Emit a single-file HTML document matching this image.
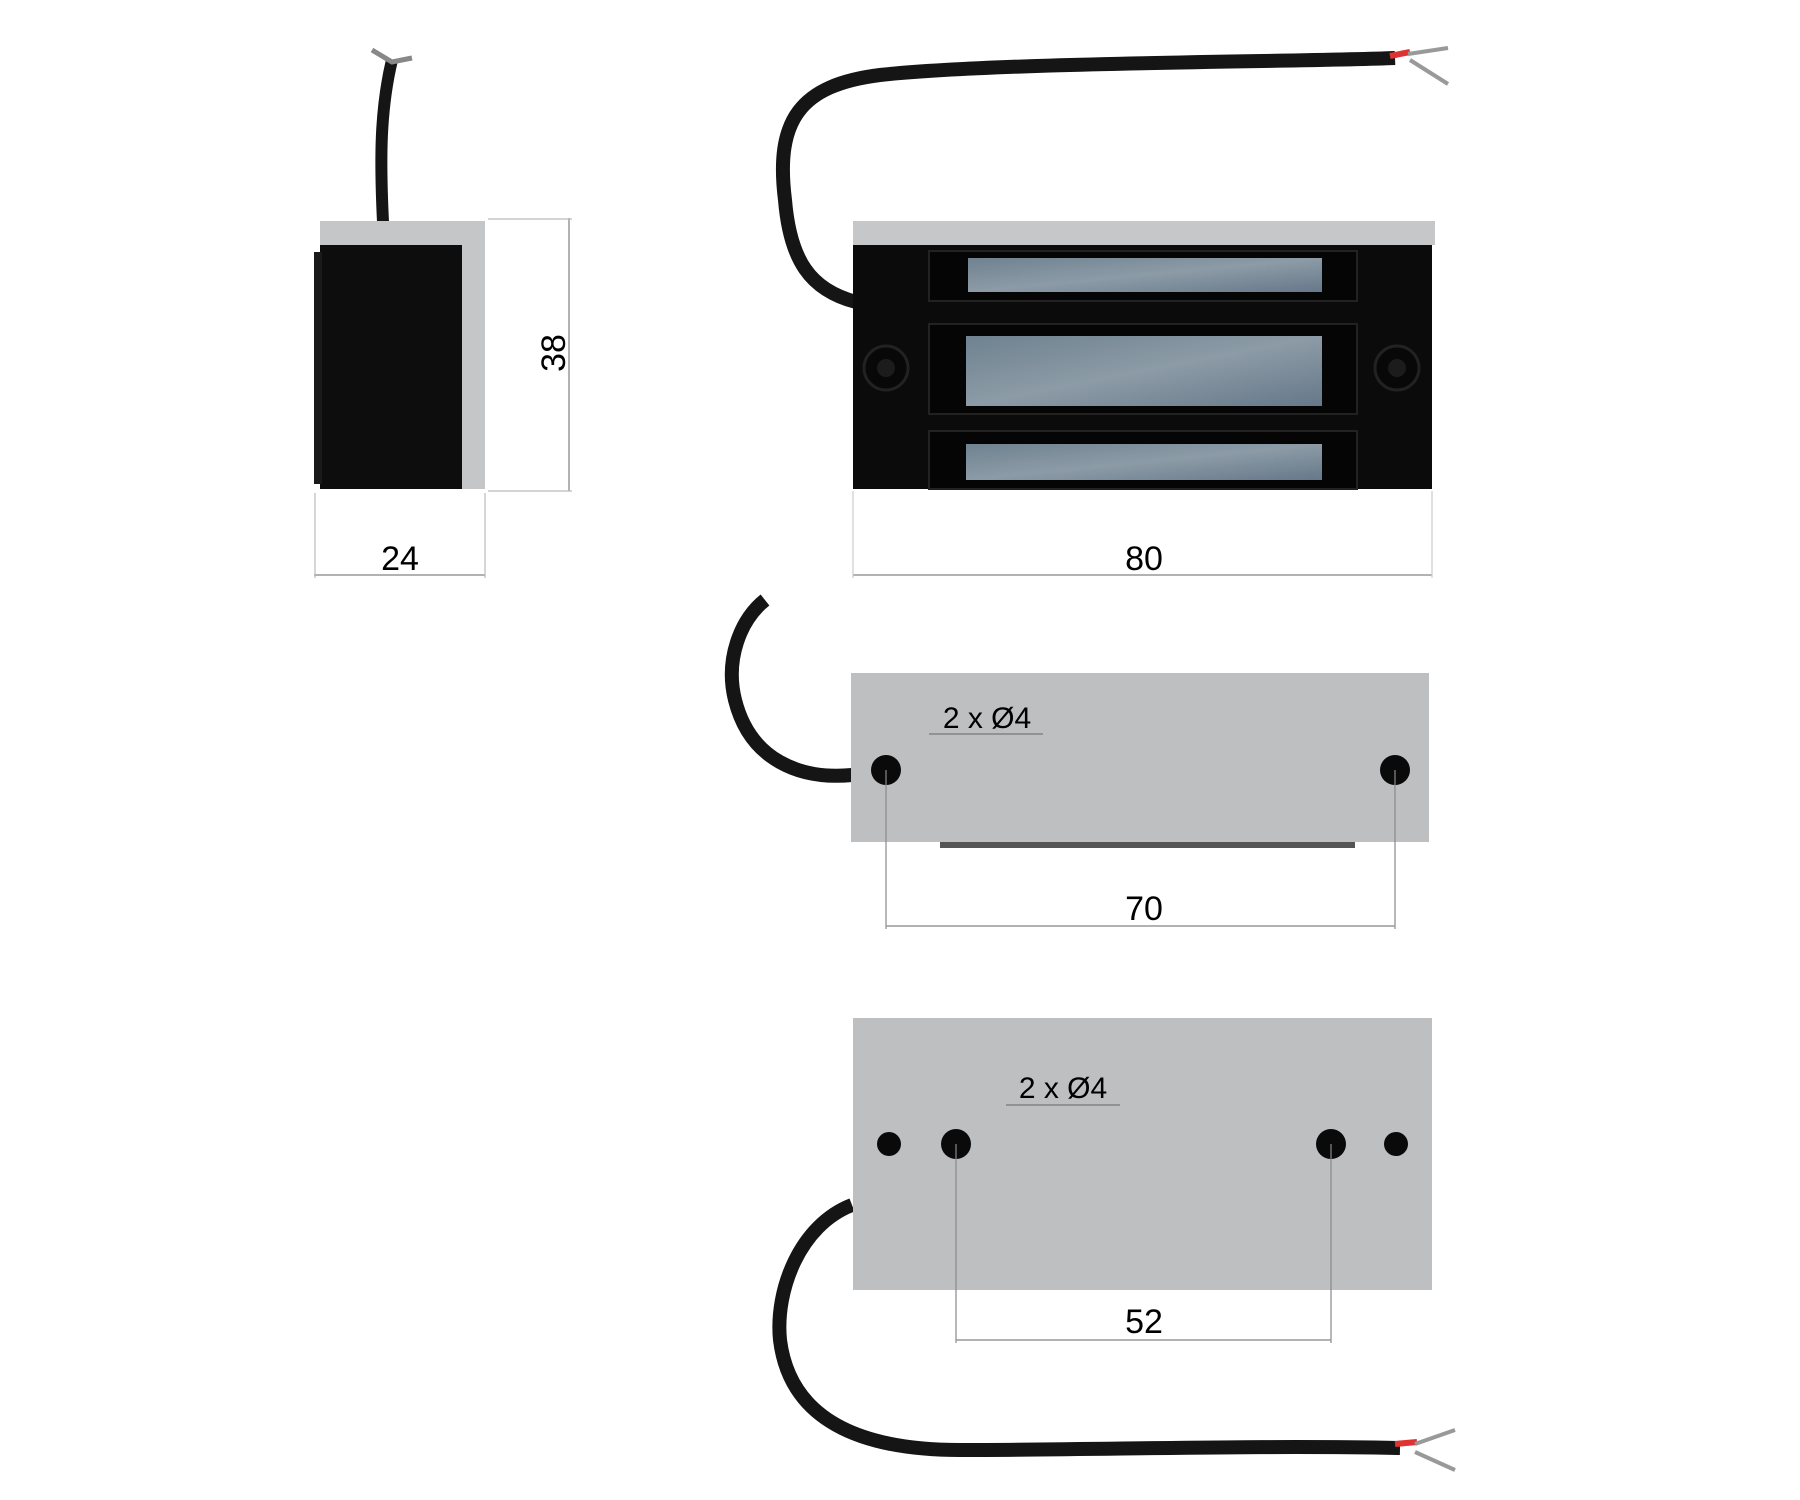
<!DOCTYPE html>
<html><head><meta charset="utf-8"><style>html,body{margin:0;padding:0;background:#fff}svg{display:block}</style></head>
<body>
<svg width="1800" height="1500" viewBox="0 0 1800 1500" xmlns="http://www.w3.org/2000/svg" font-family="Liberation Sans, sans-serif">
<defs>
<linearGradient id="mag" x1="0" y1="0" x2="1" y2="1"><stop offset="0" stop-color="#6f8290"/><stop offset="0.5" stop-color="#8c9ba6"/><stop offset="1" stop-color="#66788a"/></linearGradient>
</defs>
<!-- SIDE VIEW -->
<path d="M383 222 C 380 160, 380 110, 392 60" stroke="#151515" stroke-width="12" fill="none"/>
<path d="M372 50 l20 12 l20 -4" stroke="#888" stroke-width="5" fill="none"/>
<rect x="320" y="221" width="165" height="24" fill="#c4c6c8"/>
<rect x="462" y="221" width="23" height="268" fill="#c4c6c8"/>
<rect x="320" y="245" width="142" height="244" fill="#0d0d0d"/>
<rect x="314" y="252" width="8" height="232" fill="#1a1a1a"/>
<line x1="569" y1="218" x2="569" y2="491" stroke="#999" stroke-width="1.5"/>
<line x1="488" y1="219" x2="572" y2="219" stroke="#bbb" stroke-width="1.2"/>
<line x1="488" y1="491" x2="572" y2="491" stroke="#bbb" stroke-width="1.2"/>
<text x="0" y="0" font-size="34" text-anchor="middle" transform="translate(565,353) rotate(-90)">38</text>
<line x1="314" y1="575" x2="485" y2="575" stroke="#999" stroke-width="1.5"/>
<line x1="315" y1="493" x2="315" y2="578" stroke="#bbb" stroke-width="1.2"/>
<line x1="485" y1="493" x2="485" y2="578" stroke="#bbb" stroke-width="1.2"/>
<text x="400" y="570" font-size="34" text-anchor="middle">24</text>
<!-- FRONT VIEW -->
<path d="M856 302 C 810 290, 790 260, 785 200 C 775 120, 800 85, 880 75 C 1000 62, 1300 62, 1395 58" stroke="#151515" stroke-width="14" fill="none"/>
<path d="M1390 56 l20 -4" stroke="#d33" stroke-width="6"/>
<path d="M1408 54 l40 -6 M1410 60 l38 24" stroke="#999" stroke-width="4" fill="none"/>
<rect x="853" y="221" width="582" height="24" fill="#c6c7c9"/>
<rect x="853" y="245" width="579" height="244" fill="#0b0b0b"/>
<rect x="929" y="251" width="428" height="50" fill="#050505" stroke="#222" stroke-width="2"/>
<rect x="929" y="324" width="428" height="90" fill="#050505" stroke="#222" stroke-width="2"/>
<rect x="929" y="431" width="428" height="58" fill="#050505" stroke="#222" stroke-width="2"/>
<rect x="968" y="258" width="354" height="34" fill="url(#mag)"/>
<rect x="966" y="336" width="356" height="70" fill="url(#mag)"/>
<rect x="966" y="444" width="356" height="36" fill="url(#mag)"/>
<circle cx="886" cy="368" r="22" fill="#080808" stroke="#222" stroke-width="3"/><circle cx="886" cy="368" r="9" fill="#1c1c1c"/>
<circle cx="1397" cy="368" r="22" fill="#080808" stroke="#222" stroke-width="3"/><circle cx="1397" cy="368" r="9" fill="#1c1c1c"/>
<line x1="853" y1="575" x2="1432" y2="575" stroke="#999" stroke-width="1.5"/>
<line x1="853" y1="491" x2="853" y2="578" stroke="#ccc" stroke-width="1.2"/>
<line x1="1432" y1="491" x2="1432" y2="578" stroke="#ccc" stroke-width="1.2"/>
<text x="1144" y="570" font-size="34" text-anchor="middle">80</text>
<!-- MIDDLE VIEW -->
<path d="M852 775 C 800 780, 750 760, 735 700 C 725 660, 740 620, 765 600" stroke="#151515" stroke-width="14" fill="none"/>
<rect x="940" y="838" width="415" height="10" fill="#555"/>
<rect x="851" y="673" width="578" height="169" fill="#bdbfc1"/>
<circle cx="886" cy="770" r="15" fill="#0a0a0a"/>
<circle cx="1395" cy="770" r="15" fill="#0a0a0a"/>
<line x1="886" y1="770" x2="886" y2="929" stroke="#888" stroke-width="1.2"/>
<line x1="1395" y1="770" x2="1395" y2="929" stroke="#888" stroke-width="1.2"/>
<line x1="886" y1="926" x2="1395" y2="926" stroke="#999" stroke-width="1.5"/>
<text x="1144" y="920" font-size="34" text-anchor="middle">70</text>
<text x="987" y="728" font-size="30" text-anchor="middle">2 x Ø4</text>
<line x1="929" y1="734" x2="1043" y2="734" stroke="#777" stroke-width="1.2"/>
<!-- BOTTOM VIEW -->
<path d="M852 1205 C 800 1225, 775 1290, 780 1340 C 790 1420, 860 1450, 960 1450 C 1100 1450, 1250 1445, 1400 1448" stroke="#151515" stroke-width="14" fill="none"/>
<path d="M1395 1444 l22 -2" stroke="#d33" stroke-width="6"/>
<path d="M1415 1444 l40 -14 M1415 1452 l40 18" stroke="#999" stroke-width="4" fill="none"/>
<rect x="853" y="1018" width="579" height="272" fill="#bdbfc1"/>
<circle cx="889" cy="1144" r="12" fill="#0a0a0a"/>
<circle cx="956" cy="1144" r="15" fill="#0a0a0a"/>
<circle cx="1331" cy="1144" r="15" fill="#0a0a0a"/>
<circle cx="1396" cy="1144" r="12" fill="#0a0a0a"/>
<line x1="956" y1="1144" x2="956" y2="1343" stroke="#888" stroke-width="1.2"/>
<line x1="1331" y1="1144" x2="1331" y2="1343" stroke="#888" stroke-width="1.2"/>
<line x1="956" y1="1340" x2="1331" y2="1340" stroke="#999" stroke-width="1.5"/>
<text x="1144" y="1333" font-size="34" text-anchor="middle">52</text>
<text x="1063" y="1098" font-size="30" text-anchor="middle">2 x Ø4</text>
<line x1="1006" y1="1105" x2="1120" y2="1105" stroke="#777" stroke-width="1.2"/>
</svg>
</body></html>
